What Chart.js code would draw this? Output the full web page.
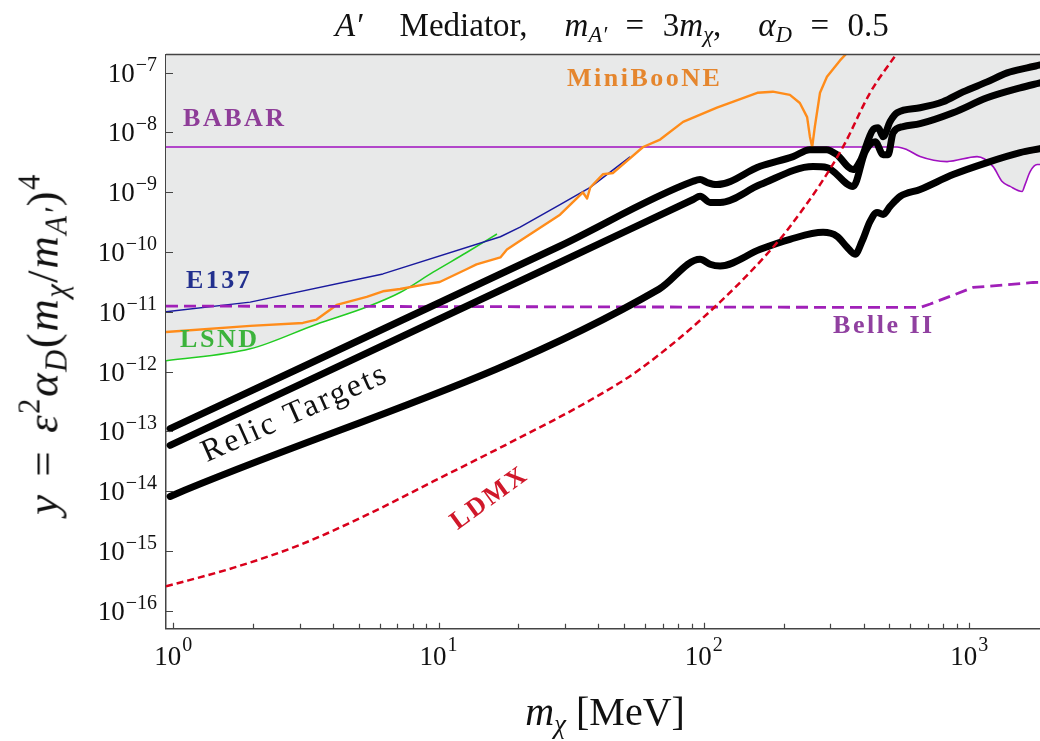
<!DOCTYPE html>
<html>
<head>
<meta charset="utf-8">
<script src="https://cdn.jsdelivr.net/npm/chart.js@4.4.1/dist/chart.umd.min.js"></script>
<style>
  body { margin: 0; background: #fff; }
  #wrap { position: relative; width: 1040px; height: 741px; overflow: hidden; }
  .math { position: absolute; font-family: "Liberation Serif", serif; color: #111; white-space: pre; line-height: 1; }
  .math sub { font-size: 68%; vertical-align: -0.28em; line-height: 0; }
  .math sup { font-size: 68%; vertical-align: 0.6em; line-height: 0; }
  #title { left: 612px; top: 9px; font-size: 33px; word-spacing: 10.3px; transform: translateX(-50%); }
  #xtitle { left: 605px; top: 692px; font-size: 40px; transform: translateX(-50%); }
  #ytitle { left: 43px; top: 344px; font-size: 45px; letter-spacing: 1.5px; word-spacing: 4px; transform: translate(-50%, -50%) rotate(-90deg); }
</style>
</head>
<body>
<div id="wrap">
  <canvas id="chart" width="1040" height="741"></canvas>
  <div class="math" id="title"><i>A′</i>  Mediator,  <i>m</i><sub><i>A′</i></sub> = 3<i>m</i><sub><i>χ</i></sub>,  <i>α</i><sub><i>D</i></sub> = 0.5</div>
  <div class="math" id="xtitle"><i>m</i><sub><i>χ</i></sub> [MeV]</div>
  <div class="math" id="ytitle"><i>y</i> = <i>ε</i><sup>2</sup><i>α</i><sub><i>D</i></sub>(<i>m</i><sub><i>χ</i></sub>/<i>m</i><sub><i>A′</i></sub>)<sup>4</sup></div>
</div>
<script>
// axis ranges (MeV, y)
const xMin = 0.939, xMax = 1849;
const yMin = 5.41e-17, yMax = 2.01e-7;

// tick values and labels (10 to the exponent)
const xTickDecades = [1, 10, 100, 1000];
const xTickExponents = ['0', '1', '2', '3'];
const yTickDecades = [1e-16, 1e-15, 1e-14, 1e-13, 1e-12, 1e-11, 1e-10, 1e-9, 1e-8, 1e-7];
const yTickExponents = ['−16', '−15', '−14', '−13', '−12', '−11', '−10', '−9', '−8', '−7'];

// relic target curves
const relicTopX = [0.973, 28.7, 91.1, 96.8, 103, 112, 163, 217, 251, 290, 317, 365, 388, 434, 454, 474, 503, 535, 653, 797, 948, 1168, 1390, 1654, 1849];
const relicTopY = [1.11e-13, 1.26e-10, 1.52e-9, 1.63e-9, 1.45e-9, 1.34e-9, 2.71e-9, 3.94e-9, 5.15e-9, 5.15e-9, 4.25e-9, 2.39e-9, 3.29e-9, 1.11e-8, 1.2e-8, 8.48e-9, 1.51e-8, 2.13e-8, 2.58e-8, 3.25e-8, 4.77e-8, 7.0e-8, 9.9e-8, 1.2e-7, 1.34e-7];
const relicMidX = [0.973, 28.7, 91.1, 96.8, 105.5, 115.1, 163.2, 258, 291.3, 365.2, 405.6, 442.4, 473.8, 494.8, 516.7, 563.5, 653, 869.5, 1168, 1555.6, 1849];
const relicMidY = [5.84e-14, 6.73e-11, 7.56e-10, 8.58e-10, 6.73e-10, 6.73e-10, 1.34e-9, 2.68e-9, 2.58e-9, 1.25e-9, 4.77e-9, 7.0e-9, 4.25e-9, 4.25e-9, 9.9e-9, 1.25e-8, 1.4e-8, 2.13e-8, 3.79e-8, 5.56e-8, 6.74e-8];
const relicLowX = [0.973, 67.8, 96.8, 105.5, 115.1, 163.2, 211.2, 281.4, 317.7, 346.7, 371.5, 394.7, 423.1, 449.5, 473.8, 503.4, 548.7, 653, 869.5, 1168, 1555.6, 1849];
const relicLowY = [8.16e-15, 2.39e-11, 7.56e-11, 6.24e-11, 5.84e-11, 1.11e-10, 1.63e-10, 2.13e-10, 1.83e-10, 1.2e-10, 9.16e-11, 1.51e-10, 3.25e-10, 4.59e-10, 4.25e-10, 5.78e-10, 8.48e-10, 1.11e-9, 1.97e-9, 3.13e-9, 4.59e-9, 5.35e-9];

// existing constraints
const babarX = [0.939, 535, 583, 653, 825, 1071, 1231, 1331, 1427, 1583, 1624, 1697, 1803, 1849];
const babarY = [5.71e-9, 5.71e-9, 5.15e-9, 3.94e-9, 3.25e-9, 3.94e-9, 2.68e-9, 1.51e-9, 1.25e-9, 1.03e-9, 1.34e-9, 2.21e-9, 2.9e-9, 2.9e-9];
const e137X = [0.939, 1.95, 6.17, 17.1, 20.3, 28.7, 37.3, 52.7];
const e137Y = [1.0e-11, 1.45e-11, 4.3e-11, 1.8e-10, 2.6e-10, 6.2e-10, 1.2e-9, 3.9e-9];
const lsndX = [0.939, 1.95, 3.47, 5.36, 7.16, 9.54, 12.8, 16.6];
const lsndY = [1.52e-12, 2.4e-12, 6.2e-12, 1.2e-11, 2.1e-11, 4.6e-11, 9.9e-11, 2.0e-10];
const minibooneX = [0.939, 1.95, 3.08, 3.47, 4.13, 5.36, 6.17, 7.16, 9.0, 10.1, 12.8, 13.9, 17.1, 18.1, 19.9, 28.7, 35.0, 36.3, 37.3, 41.7, 45.5, 59, 68.4, 83.5, 112, 159, 182, 211, 230, 245, 251, 256, 262, 274, 291, 326, 355];
const minibooneY = [4.6e-12, 5.8e-12, 6.5e-12, 7.4e-12, 1.3e-11, 1.78e-11, 2.2e-11, 2.4e-11, 2.9e-11, 3.15e-11, 5.2e-11, 6.2e-11, 8.1e-11, 1.1e-10, 1.45e-10, 4.2e-10, 9.9e-10, 7.85e-10, 1.2e-9, 2.0e-9, 2.1e-9, 5.7e-9, 7.6e-9, 1.5e-8, 2.6e-8, 4.6e-8, 4.8e-8, 4.25e-8, 3.1e-8, 1.8e-8, 8.5e-9, 5.7e-9, 1.25e-8, 4.6e-8, 8.5e-8, 1.6e-7, 2.4e-7];

// projections
const belleX = [0.939, 653, 713, 1034, 1741, 1849];
const belleY = [1.245e-11, 1.18e-11, 1.35e-11, 2.55e-11, 3.09e-11, 3.1e-11];
const ldmxX = [0.939, 1.68, 3.0, 5.36, 9.54, 20.3, 36.3, 57.5, 115, 193.5, 217, 274, 335, 423, 535];
const ldmxY = [2.55e-16, 5.2e-16, 1.26e-15, 4.0e-15, 1.45e-14, 7.9e-14, 3.1e-13, 1.1e-12, 1.45e-11, 1.63e-10, 3.13e-10, 1.34e-9, 5.78e-9, 4.59e-8, 2.13e-7];

// curve labels, anchored in data coordinates
const labelNotes = [
  { text: 'BABAR', at: [1.089, 1.66e-8], color: '#8e3d98', angle: 0, align: 'left' },
  { text: 'MiniBooNE', at: [30.5, 7.6e-8], color: '#e5862e', angle: 0, align: 'left' },
  { text: 'E137', at: [1.117, 3.29e-11], color: '#22308e', angle: 0, align: 'left' },
  { text: 'LSND', at: [1.061, 3.29e-12], color: '#3cb33c', angle: 0, align: 'left' },
  { text: 'Belle II', at: [307, 5.78e-12], color: '#9040a0', angle: 0, align: 'left' },
  { text: 'LDMX', at: [15.6, 7.55e-15], color: '#d0182a', angle: -36, align: 'center' },
  { text: 'Relic Targets', at: [2.88, 1.97e-13], color: '#111', angle: -24, align: 'center', font: '32px "Liberation Serif"' }
];

const grey = '#e8e9e9';
const baseFont = '27px "Liberation Serif"';
const expFont = '20px "Liberation Serif"';

function points(xs, ys) {
  return xs.map((x, i) => ({ x: x, y: ys[i] }));
}

function xTickValues() {
  var vals = [];
  for (var d of xTickDecades)
    for (var k = 1; k < 10; k++)
      if (d * k >= xMin && d * k <= xMax) vals.push(d * k);
  return vals;
}

// draws "10" with a raised exponent; (left, baseline) of the "10"
function powerLabel(ctx, exp, left, base, expBase) {
  ctx.font = baseFont;
  const wb = ctx.measureText('10').width;
  ctx.fillText('10', left, base);
  ctx.font = expFont;
  ctx.fillText(exp, left + wb + 1, expBase);
}

function labelWidth(ctx, exp) {
  ctx.font = baseFont;
  const wb = ctx.measureText('10').width;
  ctx.font = expFont;
  return wb + 1 + ctx.measureText(exp).width;
}

// tick marks drawn inward, tick labels, and the top frame line
const axisDecor = {
  id: 'axisDecor',
  afterDraw(chart) {
    const { ctx, chartArea: a, scales: { x, y } } = chart;
    ctx.save();
    ctx.strokeStyle = '#444';
    ctx.lineWidth = 1.2;
    ctx.beginPath();
    x.ticks.forEach(t => {
      const px = Math.round(x.getPixelForValue(t.value)) + 0.5;
      const len = xTickDecades.includes(t.value) ? 6 : 5;
      ctx.moveTo(px, a.bottom);
      ctx.lineTo(px, a.bottom - len);
    });
    y.ticks.forEach(t => {
      const py = Math.round(y.getPixelForValue(t.value)) + 0.5;
      ctx.moveTo(a.left, py);
      ctx.lineTo(a.left + 7, py);
    });
    ctx.stroke();
    ctx.lineWidth = 1.5;
    ctx.beginPath();
    ctx.moveTo(a.left, a.top);
    ctx.lineTo(a.right, a.top);
    ctx.stroke();

    ctx.fillStyle = '#111';
    ctx.textAlign = 'left';
    ctx.textBaseline = 'alphabetic';
    xTickDecades.forEach((v, i) => {
      const px = x.getPixelForValue(v);
      const w = labelWidth(ctx, xTickExponents[i]);
      powerLabel(ctx, xTickExponents[i], px - w / 2, a.bottom + 36, a.bottom + 22);
    });
    yTickDecades.forEach((v, i) => {
      const py = y.getPixelForValue(v);
      const w = labelWidth(ctx, yTickExponents[i]);
      powerLabel(ctx, yTickExponents[i], a.left - 9 - w, py + 9, py - 2);
    });
    ctx.restore();
  }
};

const curveLabels = {
  id: 'curveLabels',
  afterDatasetsDraw(chart) {
    const { ctx, scales: { x, y } } = chart;
    labelNotes.forEach(n => {
      ctx.save();
      ctx.translate(x.getPixelForValue(n.at[0]), y.getPixelForValue(n.at[1]));
      ctx.rotate(n.angle * Math.PI / 180);
      ctx.font = n.font || 'bold 26px "Liberation Serif"';
      ctx.letterSpacing = '2.5px';
      ctx.fillStyle = n.color;
      ctx.textAlign = n.align;
      ctx.textBaseline = 'middle';
      ctx.fillText(n.text, 0, 0);
      ctx.restore();
    });
  }
};

function relic(xs, ys) {
  return { data: points(xs, ys), borderColor: '#000', borderWidth: 7, borderCapStyle: 'round', cubicInterpolationMode: 'monotone', fill: false };
}

// first dataset ends up on top
const datasets = [
  { data: points(ldmxX, ldmxY), borderColor: '#d9001b', borderWidth: 2.5, borderDash: [7, 4], cubicInterpolationMode: 'monotone', fill: false },
  relic(relicTopX, relicTopY),
  relic(relicMidX, relicMidY),
  relic(relicLowX, relicLowY),
  { data: points(belleX, belleY), borderColor: '#a020b8', borderWidth: 2.8, borderDash: [12, 6], fill: false },
  { data: points(minibooneX, minibooneY), borderColor: '#ff8c1a', borderWidth: 2.4, tension: 0, fill: 'end', backgroundColor: grey },
  { data: points(babarX, babarY), borderColor: '#a010c0', borderWidth: 1.6, cubicInterpolationMode: 'monotone', fill: 'end', backgroundColor: grey },
  { data: points(e137X, e137Y), borderColor: '#1a1a9e', borderWidth: 1.5, tension: 0, fill: 'end', backgroundColor: grey },
  { data: points(lsndX, lsndY), borderColor: '#22cc22', borderWidth: 1.5, cubicInterpolationMode: 'monotone', fill: 'end', backgroundColor: grey }
];

new Chart(document.getElementById('chart'), {
  type: 'line',
  data: { datasets: datasets },
  options: {
    responsive: false,
    animation: false,
    layout: { padding: { top: 54.5, right: 0, bottom: 0, left: 0 } },
    elements: { point: { radius: 0 }, line: { borderJoinStyle: 'round' } },
    plugins: {
      legend: { display: false },
      tooltip: { enabled: false },
      filler: { drawTime: 'beforeDatasetsDraw' }
    },
    scales: {
      x: {
        type: 'logarithmic',
        min: xMin,
        max: xMax,
        grid: { display: false, drawTicks: false },
        border: { display: true, color: '#444', width: 1.5 },
        afterBuildTicks: s => { s.ticks = xTickValues().map(v => ({ value: v })); },
        afterFit: s => { s.height = 112.3; },
        ticks: { display: false, autoSkip: false }
      },
      y: {
        type: 'logarithmic',
        min: yMin,
        max: yMax,
        grid: { display: false, drawTicks: false },
        border: { display: true, color: '#444', width: 1.5 },
        afterBuildTicks: s => { s.ticks = yTickDecades.map(v => ({ value: v })); },
        afterFit: s => { s.width = 166; },
        ticks: { display: false, autoSkip: false }
      }
    }
  },
  plugins: [axisDecor, curveLabels]
});
</script>
</body>
</html>
